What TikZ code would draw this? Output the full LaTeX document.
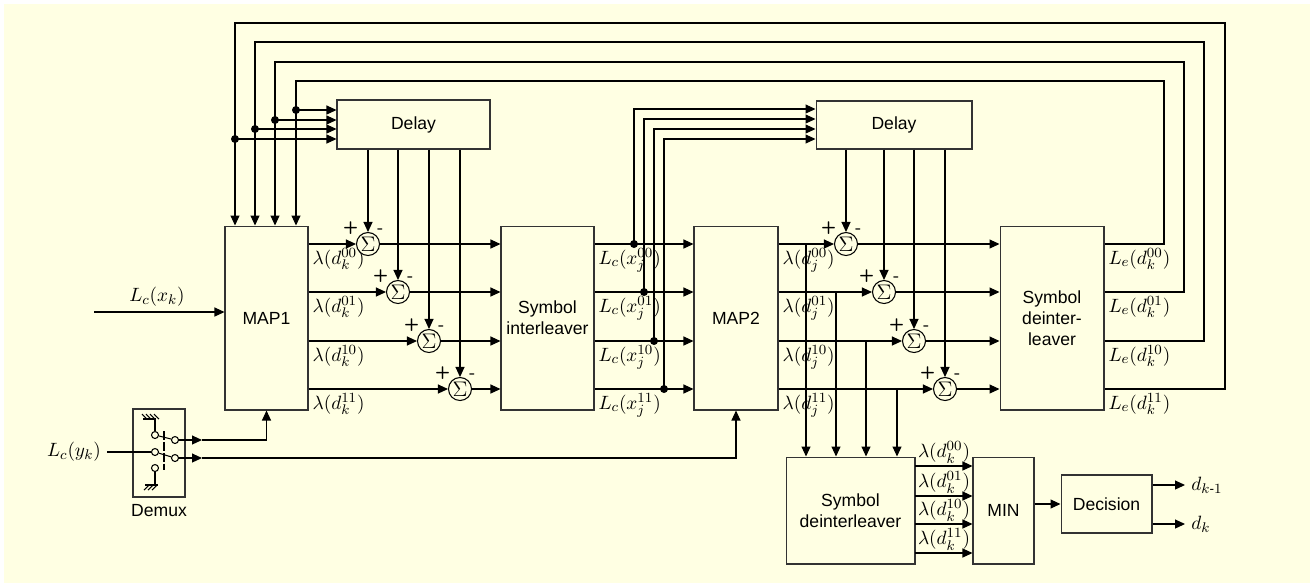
\documentclass[tikz,border=0pt]{standalone}
\usepackage{fontspec}
\setmainfont{Liberation Sans}
\usepackage{amsmath}
\usetikzlibrary{arrows.meta, positioning}
\definecolor{bgyel}{RGB}{255,255,227}

\begin{document}
\begin{tikzpicture}[
    x=0.02cm, y=-0.02cm, line width=0.6pt,
    blk/.style={rectangle, draw=black!80, fill=bgyel, inner sep=0pt, align=center},
    sum/.style={circle, draw, fill=bgyel, inner sep=0pt, minimum size=0.46cm, font=\large,
        label={[pm]135:+}, label={[pm]50:-}},
    pm/.style={font=\sffamily\bfseries, inner sep=0.5pt},
    dot/.style={circle, fill, inner sep=0pt, minimum size=0.16cm},
    sw/.style={circle, draw, fill=bgyel, inner sep=0pt, minimum size=0.14cm},
    a/.style={-{Triangle[length=2mm, width=1.8mm]}},
    mf/.style={font=\fontsize{11}{13}\selectfont},
    lb/.style={mf, anchor=north west, inner sep=2pt},
]
\useasboundingbox (0,0) rectangle (1310,583);
\fill[white] (0,0) rectangle (1310,583);
\fill[bgyel] (4,4) rectangle (1310,583);

% blocks
\node[blk, minimum width=1.66cm, minimum height=3.68cm] (map1) at (266.5,318) {MAP1};
\node[blk, minimum width=1.86cm, minimum height=3.68cm] (ilv) at (547.5,318) {Symbol\\interleaver};
\node[blk, minimum width=1.68cm, minimum height=3.68cm] (map2) at (736,318) {MAP2};
\node[blk, minimum width=2.08cm, minimum height=3.68cm] (dil) at (1052,318) {Symbol\\deinter-\\leaver};
\node[blk, minimum width=3.06cm, minimum height=0.98cm] (dly1) at (413.5,124.5) {Delay};
\node[blk, minimum width=3.12cm, minimum height=0.96cm] (dly2) at (894,125) {Delay};
\node[blk, minimum width=1.04cm, minimum height=1.76cm] (dmx) at (159,453) {};
\node[below=0pt of dmx] (dmxl) {Demux};
\node[blk, minimum width=2.58cm, minimum height=2.14cm] (sdi) at (850.5,510.5) {Symbol\\deinterleaver};
\node[blk, minimum width=1.22cm, minimum height=2.14cm] (min) at (1003.5,510.5) {MIN};
\node[blk, minimum width=1.82cm, minimum height=1.16cm] (dec) at (1106.5,504) {Decision};

% adders
\node[sum] (s1a) at (368,244) {$\Sigma$};
\node[sum] (s1b) at (398,292) {$\Sigma$};
\node[sum] (s1c) at (429,341) {$\Sigma$};
\node[sum] (s1d) at (460,389) {$\Sigma$};
\node[sum] (s2a) at (846,244) {$\Sigma$};
\node[sum] (s2b) at (884,292) {$\Sigma$};
\node[sum] (s2c) at (914,341) {$\Sigma$};
\node[sum] (s2d) at (945,389) {$\Sigma$};

% MAP1 -> adders -> interleaver
\draw[a] (map1.east |- s1a) -- (s1a);
\draw[a] (map1.east |- s1b) -- (s1b);
\draw[a] (map1.east |- s1c) -- (s1c);
\draw[a] (map1.east |- s1d) -- (s1d);
\node[lb] (la00) at (map1.east |- s1a) {$\lambda(d_k^{00})$};
\node[lb] (la01) at (map1.east |- s1b) {$\lambda(d_k^{01})$};
\node[lb] (la10) at (map1.east |- s1c) {$\lambda(d_k^{10})$};
\node[lb] (la11) at (map1.east |- s1d) {$\lambda(d_k^{11})$};
\draw[a] (s1a |- dly1.south) -- (s1a);
\draw[a] (s1b |- dly1.south) -- (s1b);
\draw[a] (s1c |- dly1.south) -- (s1c);
\draw[a] (s1d |- dly1.south) -- (s1d);
\draw[a] (s1a) -- (s1a -| ilv.west);
\draw[a] (s1b) -- (s1b -| ilv.west);
\draw[a] (s1c) -- (s1c -| ilv.west);
\draw[a] (s1d) -- (s1d -| ilv.west);

% interleaver -> MAP2, taps to second delay
\draw[a] (ilv.east |- s1a) -- (map2.west |- s1a);
\draw[a] (ilv.east |- s1b) -- (map2.west |- s1b);
\draw[a] (ilv.east |- s1c) -- (map2.west |- s1c);
\draw[a] (ilv.east |- s1d) -- (map2.west |- s1d);
\node[lb] (lx00) at (ilv.east |- s1a) {$L_c(x_j^{00})$};
\node[lb] (lx01) at (ilv.east |- s1b) {$L_c(x_j^{01})$};
\node[lb] (lx10) at (ilv.east |- s1c) {$L_c(x_j^{10})$};
\node[lb] (lx11) at (ilv.east |- s1d) {$L_c(x_j^{11})$};
\coordinate (j00) at (634,244); \coordinate (q00) at (634,109);
\coordinate (j01) at (644,292); \coordinate (q01) at (644,119);
\coordinate (j10) at (654,341); \coordinate (q10) at (654,129);
\coordinate (j11) at (664,389); \coordinate (q11) at (664,139);
\draw[a] (j00) -- (q00) -- (q00 -| dly2.west);
\draw[a] (j01) -- (q01) -- (q01 -| dly2.west);
\draw[a] (j10) -- (q10) -- (q10 -| dly2.west);
\draw[a] (j11) -- (q11) -- (q11 -| dly2.west);
\node[dot] (dj00) at (j00) {};
\node[dot] (dj01) at (j01) {};
\node[dot] (dj10) at (j10) {};
\node[dot] (dj11) at (j11) {};

% MAP2 -> adders -> deinterleaver
\draw[a] (map2.east |- s2a) -- (s2a);
\draw[a] (map2.east |- s2b) -- (s2b);
\draw[a] (map2.east |- s2c) -- (s2c);
\draw[a] (map2.east |- s2d) -- (s2d);
\node[lb] (lj00) at (map2.east |- s2a) {$\lambda(d_j^{00})$};
\node[lb] (lj01) at (map2.east |- s2b) {$\lambda(d_j^{01})$};
\node[lb] (lj10) at (map2.east |- s2c) {$\lambda(d_j^{10})$};
\node[lb] (lj11) at (map2.east |- s2d) {$\lambda(d_j^{11})$};
\draw[a] (s2a |- dly2.south) -- (s2a);
\draw[a] (s2b |- dly2.south) -- (s2b);
\draw[a] (s2c |- dly2.south) -- (s2c);
\draw[a] (s2d |- dly2.south) -- (s2d);
\draw[a] (s2a) -- (s2a -| dil.west);
\draw[a] (s2b) -- (s2b -| dil.west);
\draw[a] (s2c) -- (s2c -| dil.west);
\draw[a] (s2d) -- (s2d -| dil.west);

% MAP2 outputs down to the final deinterleaver
\coordinate (b00) at (806,244);
\coordinate (b01) at (836,292);
\coordinate (b10) at (866,341);
\coordinate (b11) at (897,389);
\draw[a] (b00) -- (b00 |- sdi.north);
\draw[a] (b01) -- (b01 |- sdi.north);
\draw[a] (b10) -- (b10 |- sdi.north);
\draw[a] (b11) -- (b11 |- sdi.north);

% extrinsic feedback to MAP1 and first delay
\coordinate (r00) at (1164,81);  \coordinate (t00) at (296,110);
\coordinate (r01) at (1184,62);  \coordinate (t01) at (275,120);
\coordinate (r10) at (1204,42);  \coordinate (t10) at (255,129);
\coordinate (r11) at (1225,23);  \coordinate (t11) at (235,139);
\draw[a] (dil.east |- s2a) -| (r00) -| (t00 |- map1.north);
\draw[a] (dil.east |- s2b) -| (r01) -| (t01 |- map1.north);
\draw[a] (dil.east |- s2c) -| (r10) -| (t10 |- map1.north);
\draw[a] (dil.east |- s2d) -| (r11) -| (t11 |- map1.north);
\draw[a] (t00) -- (t00 -| dly1.west);
\draw[a] (t01) -- (t01 -| dly1.west);
\draw[a] (t10) -- (t10 -| dly1.west);
\draw[a] (t11) -- (t11 -| dly1.west);
\node[dot] (dt00) at (t00) {};
\node[dot] (dt01) at (t01) {};
\node[dot] (dt10) at (t10) {};
\node[dot] (dt11) at (t11) {};
\node[lb] (le00) at (dil.east |- s2a) {$L_e(d_k^{00})$};
\node[lb] (le01) at (dil.east |- s2b) {$L_e(d_k^{01})$};
\node[lb] (le10) at (dil.east |- s2c) {$L_e(d_k^{10})$};
\node[lb] (le11) at (dil.east |- s2d) {$L_e(d_k^{11})$};

% systematic input
\coordinate (xin) at (94,312);
\draw[a] (xin) -- (xin -| map1.west);
\node[mf] (lcx) at (157,297) {$L_c(x_k)$};

% demux
\node[sw] (c1) at (155,435) {};
\node[sw] (c2) at (155,452) {};
\node[sw] (c3) at (155,468) {};
\node[sw] (c4) at (175,440) {};
\node[sw] (c5) at (175,458) {};
\draw (c1) -- (c4);
\draw (c2) -- (c5);
\draw[line width=1.6pt, dash pattern=on 5pt off 1.2pt] (164,431) -- (164,470);
\draw (c1) -- (155,419) -- (143,419);
\draw (147,419) -- (142,414) (151,419) -- (146,414) (155,419) -- (150,414) (159,419) -- (154,414);
\draw (c3) -- (155,485);
\draw (145,485) -- (158,485);
\draw (149,485) -- (144,490) (153,485) -- (148,490) (157,485) -- (152,490);
\node[mf] (lcy) at (74,452) {$L_c(y_k)$};
\draw (lcy) -- (c2);
\coordinate (p1) at (202,440);
\coordinate (p2) at (202,458);
\draw[a] (c4) -- (p1);
\draw[a] (p1) -| (map1.south);
\draw[a] (c5) -- (p2);
\draw[a] (p2) -| (map2.south);

% final stage
\coordinate (u00) at (915,466);
\coordinate (u01) at (915,496);
\coordinate (u10) at (915,524);
\coordinate (u11) at (915,553);
\draw[a] (u00) -- (u00 -| min.west);
\draw[a] (u01) -- (u01 -| min.west);
\draw[a] (u10) -- (u10 -| min.west);
\draw[a] (u11) -- (u11 -| min.west);
\node[mf, anchor=south, inner sep=1pt] (lk00) at (944,466) {$\lambda(d_k^{00})$};
\node[mf, anchor=south, inner sep=1pt] (lk01) at (944,496) {$\lambda(d_k^{01})$};
\node[mf, anchor=south, inner sep=1pt] (lk10) at (944,524) {$\lambda(d_k^{10})$};
\node[mf, anchor=south, inner sep=1pt] (lk11) at (944,553) {$\lambda(d_k^{11})$};
\draw[a] (min.east |- dec) -- (dec);
\coordinate (e1) at (1185,485);
\coordinate (e2) at (1185,524);
\draw[a] (dec.east |- e1) -- (e1);
\draw[a] (dec.east |- e2) -- (e2);
\node[mf, anchor=west] (dk1) at (e1) {$d_{k\text{-}1}$};
\node[mf, anchor=west] (dk) at (e2) {$d_k$};
\end{tikzpicture}
\end{document}
